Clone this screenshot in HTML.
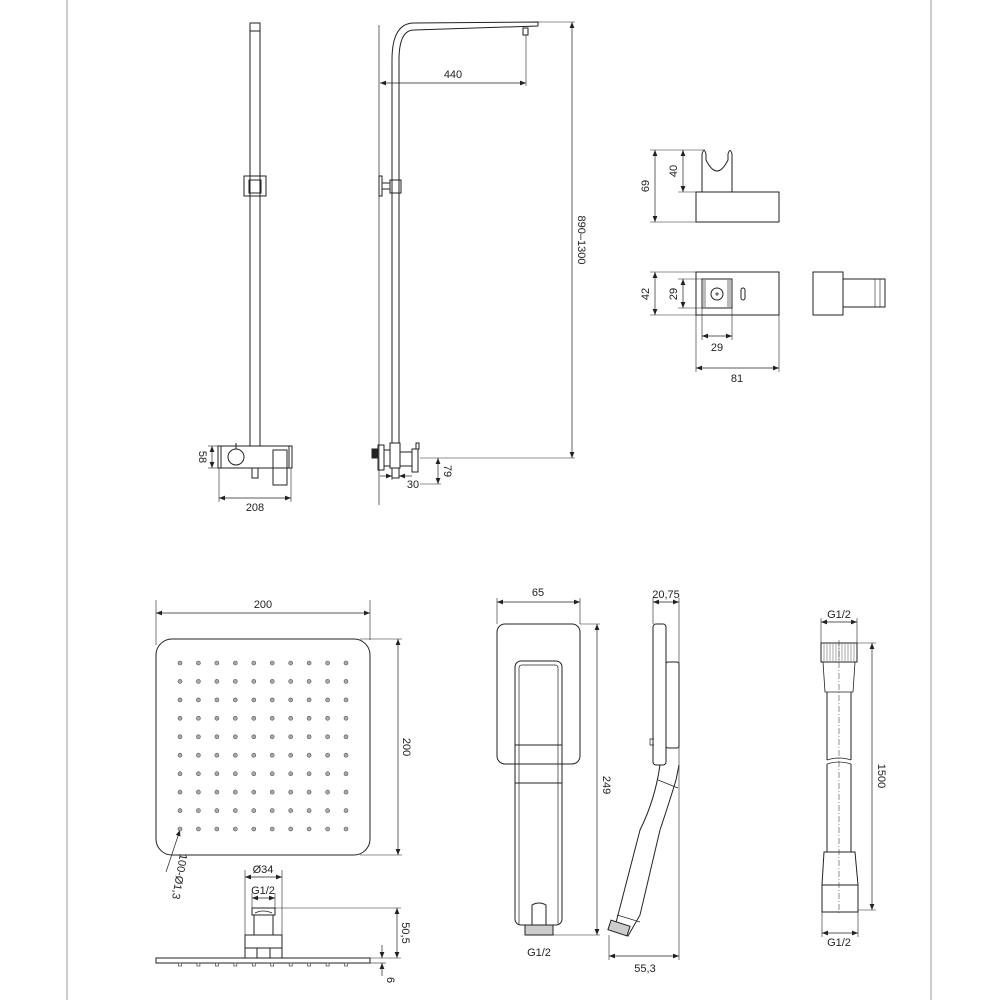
<!DOCTYPE html>
<html><head><meta charset="utf-8"><style>
html,body{margin:0;padding:0;background:#fff}
svg{display:block}
text{font-family:"Liberation Sans",sans-serif;font-size:11px;fill:#222}
</style></head><body>
<svg width="1000" height="1000" viewBox="0 0 1000 1000" xmlns="http://www.w3.org/2000/svg">
<defs>
<marker id="a" viewBox="0 0 10 10" refX="10" refY="5" markerWidth="8" markerHeight="6" orient="auto-start-reverse" markerUnits="userSpaceOnUse"><path d="M0,1 L10,5 L0,9 z" fill="#222"/></marker>
</defs>
<line x1="67" y1="0" x2="67" y2="1000" stroke="#aaa" stroke-width="1.2"/>
<line x1="931" y1="0" x2="931" y2="1000" stroke="#aaa" stroke-width="1.2"/>

<g fill="none" stroke="#222" stroke-width="1">
<!-- left front view -->
<rect x="250" y="23" width="10" height="423"/>
<rect x="250" y="23" width="10" height="8"/>
<rect x="244" y="176" width="22" height="20"/>
<rect x="249" y="180" width="12" height="13"/>
<rect x="218" y="446" width="74" height="22"/>
<line x1="221" y1="446" x2="221" y2="468"/><line x1="289" y1="446" x2="289" y2="468"/>
<circle cx="236" cy="457" r="8"/>
<line x1="236" y1="443" x2="236" y2="449"/>
<rect x="252" y="468" width="6" height="10"/>
<rect x="273" y="450" width="14" height="35"/>
<line x1="219" y1="468" x2="219" y2="502" stroke-width="0.6"/>
<line x1="291" y1="468" x2="291" y2="502" stroke-width="0.6"/>
<line x1="219" y1="498" x2="291" y2="498" stroke-width="0.7" marker-start="url(#a)" marker-end="url(#a)"/>
<line x1="212" y1="446" x2="212" y2="468" stroke-width="0.7" marker-start="url(#a)" marker-end="url(#a)"/>
<line x1="208" y1="446" x2="218" y2="446" stroke-width="0.6"/>
<line x1="208" y1="468" x2="218" y2="468" stroke-width="0.6"/>

<!-- right side view -->
<line x1="379" y1="25" x2="379" y2="505" stroke-width="0.7"/>
<path d="M392 443 L392 60 Q392 23 414 23 L538 22 L538 26 L414 30 Q399 30 399 60 L399 443"/>
<rect x="523" y="28" width="5" height="7"/>
<line x1="526" y1="35" x2="526" y2="86" stroke-width="0.6"/>
<line x1="380" y1="83" x2="526" y2="83" stroke-width="0.7" marker-start="url(#a)" marker-end="url(#a)"/>
<rect x="379" y="176" width="3" height="20"/>
<rect x="382" y="183" width="8" height="6"/>
<rect x="390" y="180" width="11" height="13"/>
<line x1="538" y1="22" x2="575" y2="22" stroke-width="0.6"/>
<line x1="572" y1="22" x2="572" y2="458" stroke-width="0.7" marker-start="url(#a)" marker-end="url(#a)"/>
<line x1="420" y1="458" x2="575" y2="458" stroke-width="0.6"/>
<rect x="372" y="449" width="6" height="9" fill="#222"/>
<rect x="378" y="445" width="6" height="25"/>
<rect x="384" y="450" width="6" height="16"/>
<rect x="390" y="443" width="10" height="25"/>
<rect x="392" y="468" width="7" height="10"/>
<rect x="400" y="452" width="12" height="14"/>
<rect x="412" y="449" width="6" height="23"/>
<rect x="416" y="443" width="3" height="6"/>
<line x1="420" y1="484" x2="441" y2="484" stroke-width="0.6"/>
<line x1="438" y1="458" x2="438" y2="484" stroke-width="0.7" marker-start="url(#a)" marker-end="url(#a)"/>
<line x1="380" y1="476" x2="392" y2="476" stroke-width="0.7" marker-end="url(#a)"/>
<line x1="412" y1="476" x2="399" y2="476" stroke-width="0.7" marker-end="url(#a)"/>
<line x1="392" y1="478" x2="392" y2="480" stroke-width="0.6"/>

<!-- holder top -->
<rect x="696" y="192" width="83" height="30"/>
<path d="M702 192 L702 154 Q704 147 706 154 L706 160 Q717 182 728 160 L728 154 Q730 147 732 154 L732 192"/>
<line x1="650" y1="150" x2="705" y2="150" stroke-width="0.6"/>
<line x1="650" y1="222" x2="696" y2="222" stroke-width="0.6"/>
<line x1="678" y1="192" x2="702" y2="192" stroke-width="0.6"/>
<line x1="655" y1="150" x2="655" y2="222" stroke-width="0.7" marker-start="url(#a)" marker-end="url(#a)"/>
<line x1="683" y1="150" x2="683" y2="192" stroke-width="0.7" marker-start="url(#a)" marker-end="url(#a)"/>
<!-- holder front -->
<rect x="696" y="272" width="83" height="43"/>
<rect x="702" y="279" width="30" height="29"/>
<rect x="703" y="280" width="3" height="27" fill="#bbb" stroke="none"/>
<rect x="727" y="280" width="4" height="27" fill="#bbb" stroke="none"/>
<circle cx="717" cy="294" r="6"/>
<path d="M715 294 h4 M717 292 v4" stroke-width="0.8"/>
<rect x="741" y="288" width="4" height="12" rx="2"/>
<line x1="650" y1="272" x2="696" y2="272" stroke-width="0.6"/>
<line x1="650" y1="315" x2="696" y2="315" stroke-width="0.6"/>
<line x1="678" y1="279" x2="702" y2="279" stroke-width="0.6"/>
<line x1="678" y1="308" x2="702" y2="308" stroke-width="0.6"/>
<line x1="655" y1="272" x2="655" y2="315" stroke-width="0.7" marker-start="url(#a)" marker-end="url(#a)"/>
<line x1="683" y1="279" x2="683" y2="308" stroke-width="0.7" marker-start="url(#a)" marker-end="url(#a)"/>
<line x1="702" y1="308" x2="702" y2="340" stroke-width="0.6"/>
<line x1="732" y1="308" x2="732" y2="340" stroke-width="0.6"/>
<line x1="702" y1="336" x2="732" y2="336" stroke-width="0.7" marker-start="url(#a)" marker-end="url(#a)"/>
<line x1="696" y1="315" x2="696" y2="372" stroke-width="0.6"/>
<line x1="779" y1="315" x2="779" y2="372" stroke-width="0.6"/>
<line x1="696" y1="368" x2="779" y2="368" stroke-width="0.7" marker-start="url(#a)" marker-end="url(#a)"/>
<rect x="813" y="272" width="30" height="43"/>
<rect x="843" y="279" width="42" height="28"/>
<line x1="875" y1="279" x2="875" y2="307" stroke-width="0.6"/>
<line x1="880" y1="279" x2="880" y2="307" stroke-width="0.6"/>

<!-- rain shower -->
<rect x="156" y="639" width="214" height="216" rx="16"/>
<line x1="156" y1="600" x2="156" y2="645" stroke-width="0.6"/>
<line x1="370" y1="600" x2="370" y2="640" stroke-width="0.6"/>
<line x1="156" y1="613" x2="370" y2="613" stroke-width="0.7" marker-start="url(#a)" marker-end="url(#a)"/>
<line x1="360" y1="639" x2="402" y2="639" stroke-width="0.6"/>
<line x1="360" y1="855" x2="402" y2="855" stroke-width="0.6"/>
<line x1="398" y1="639" x2="398" y2="855" stroke-width="0.7" marker-start="url(#a)" marker-end="url(#a)"/>
<line x1="166" y1="872" x2="180" y2="830" stroke-width="0.7" marker-end="url(#a)"/>
<!-- fitting -->
<line x1="245" y1="870" x2="245" y2="935" stroke-width="0.6"/>
<line x1="282" y1="870" x2="282" y2="935" stroke-width="0.6"/>
<line x1="245" y1="877" x2="282" y2="877" stroke-width="0.7" marker-start="url(#a)" marker-end="url(#a)"/>
<line x1="252" y1="893" x2="252" y2="908" stroke-width="0.6"/>
<line x1="275" y1="893" x2="275" y2="908" stroke-width="0.6"/>
<line x1="252" y1="898" x2="275" y2="898" stroke-width="0.7" marker-start="url(#a)" marker-end="url(#a)"/>
<rect x="252" y="908" width="23" height="7"/>
<path d="M255 913 Q263 909 272 913" stroke-width="0.7"/>
<rect x="254" y="915" width="19" height="20"/>
<rect x="245" y="935" width="37" height="13"/>
<rect x="245" y="948" width="37" height="10"/>
<rect x="257" y="948" width="13" height="10"/>
<rect x="156" y="958" width="214" height="5"/>
<line x1="275" y1="908" x2="401" y2="908" stroke-width="0.6"/>
<line x1="370" y1="958" x2="401" y2="958" stroke-width="0.6"/>
<line x1="370" y1="963" x2="386" y2="963" stroke-width="0.6"/>
<line x1="397" y1="908" x2="397" y2="958" stroke-width="0.7" marker-start="url(#a)" marker-end="url(#a)"/>
<line x1="382" y1="945" x2="382" y2="958" stroke-width="0.7" marker-end="url(#a)"/>
<line x1="382" y1="976" x2="382" y2="963" stroke-width="0.7" marker-end="url(#a)"/>

<!-- hand shower front -->
<rect x="497" y="624" width="83" height="140" rx="8"/>
<rect x="515" y="661" width="47" height="264" rx="6"/>
<path d="M519 925 L519 668 Q519 665 522 665 L555 665 Q558 665 558 668 L558 925" stroke-width="0.7"/>
<line x1="515" y1="745" x2="562" y2="745"/>
<line x1="515" y1="783" x2="562" y2="783"/>
<path d="M532 925 L532 905 Q539 901 546 905 L546 925"/>
<rect x="525" y="925" width="28" height="10" fill="#ccc"/>
<line x1="497" y1="598" x2="497" y2="624" stroke-width="0.6"/>
<line x1="580" y1="598" x2="580" y2="624" stroke-width="0.6"/>
<line x1="497" y1="602" x2="580" y2="602" stroke-width="0.7" marker-start="url(#a)" marker-end="url(#a)"/>
<line x1="580" y1="624" x2="600" y2="624" stroke-width="0.6"/>
<line x1="553" y1="935" x2="600" y2="935" stroke-width="0.6"/>
<line x1="597" y1="624" x2="597" y2="935" stroke-width="0.7" marker-start="url(#a)" marker-end="url(#a)"/>

<!-- hand shower side -->
<rect x="653" y="624" width="13" height="141" rx="3"/>
<rect x="666" y="662" width="13" height="86" rx="2"/>
<path d="M654 745 h-4 v-6 h4" stroke-width="0.7"/>
<path d="M660 765 Q655 800 640 830 L618 915 L614 930 L628 936 L640 915 L660 830 Q670 800 676 780 L679 765" />
<line x1="658" y1="780" x2="678" y2="788" stroke-width="0.7"/>
<path d="M617 915 L640 922" stroke-width="0.7"/>
<rect x="609" y="923" width="20" height="10" fill="#ccc" transform="rotate(18 619 928)"/>
<line x1="653" y1="598" x2="653" y2="624" stroke-width="0.6"/>
<line x1="679" y1="598" x2="679" y2="960" stroke-width="0.6"/>
<line x1="609" y1="935" x2="609" y2="960" stroke-width="0.6"/>
<line x1="653" y1="602" x2="679" y2="602" stroke-width="0.7" marker-start="url(#a)" marker-end="url(#a)"/>
<line x1="609" y1="956" x2="679" y2="956" stroke-width="0.7" marker-start="url(#a)" marker-end="url(#a)"/>

<!-- hose -->
<rect x="821" y="643" width="36" height="19"/>
<g stroke-width="0.5" stroke="#555">
<line x1="824" y1="644" x2="824" y2="661"/><line x1="827" y1="644" x2="827" y2="661"/><line x1="830" y1="644" x2="830" y2="661"/><line x1="833" y1="644" x2="833" y2="661"/><line x1="836" y1="644" x2="836" y2="661"/><line x1="839" y1="644" x2="839" y2="661"/><line x1="842" y1="644" x2="842" y2="661"/><line x1="845" y1="644" x2="845" y2="661"/><line x1="848" y1="644" x2="848" y2="661"/><line x1="851" y1="644" x2="851" y2="661"/><line x1="854" y1="644" x2="854" y2="661"/>
</g>
<path d="M823 662 L825 692 L853 692 L855 662" stroke-width="0.8"/>
<line x1="827" y1="692" x2="827" y2="760"/><line x1="851" y1="692" x2="851" y2="760"/>
<path d="M827 760 Q839 756 851 760 M827 764 Q839 760 851 764" stroke-width="0.7"/>
<line x1="827" y1="764" x2="827" y2="852"/><line x1="851" y1="852" x2="851" y2="764"/>
<path d="M824 852 L855 852 L858 885 L822 885 Z"/>
<rect x="822" y="885" width="36" height="27"/>
<line x1="839" y1="640" x2="839" y2="915" stroke-width="0.5" stroke-dasharray="6,2,1,2"/>
<line x1="821" y1="618" x2="821" y2="643" stroke-width="0.6"/>
<line x1="857" y1="618" x2="857" y2="643" stroke-width="0.6"/>
<line x1="821" y1="622" x2="857" y2="622" stroke-width="0.7" marker-start="url(#a)" marker-end="url(#a)"/>
<line x1="822" y1="912" x2="822" y2="937" stroke-width="0.6"/>
<line x1="858" y1="912" x2="858" y2="937" stroke-width="0.6"/>
<line x1="822" y1="933" x2="858" y2="933" stroke-width="0.7" marker-start="url(#a)" marker-end="url(#a)"/>
<line x1="857" y1="643" x2="876" y2="643" stroke-width="0.6"/>
<line x1="858" y1="910" x2="876" y2="910" stroke-width="0.6"/>
<line x1="872" y1="643" x2="872" y2="910" stroke-width="0.7" marker-start="url(#a)" marker-end="url(#a)"/>
</g>

<!-- dots -->
<g fill="#aaa" stroke="#666" stroke-width="0.6" id="dots"></g>
<g fill="none" stroke="#222" stroke-width="0.7" id="noz"></g>

<!-- texts -->
<text x="255" y="511" text-anchor="middle">208</text>
<text transform="translate(199,457) rotate(90)" text-anchor="middle">58</text>
<text x="453" y="78" text-anchor="middle">440</text>
<text transform="translate(578,240) rotate(90)" text-anchor="middle">890–1300</text>
<text transform="translate(444,471) rotate(90)" text-anchor="middle">79</text>
<text x="413" y="488" text-anchor="middle">30</text>
<text transform="translate(649,186) rotate(-90)" text-anchor="middle">69</text>
<text transform="translate(677,171) rotate(-90)" text-anchor="middle">40</text>
<text transform="translate(649,294) rotate(-90)" text-anchor="middle">42</text>
<text transform="translate(677,294) rotate(-90)" text-anchor="middle">29</text>
<text x="717" y="351" text-anchor="middle">29</text>
<text x="737" y="382" text-anchor="middle">81</text>
<text x="263" y="608" text-anchor="middle">200</text>
<text transform="translate(403,747) rotate(90)" text-anchor="middle">200</text>
<text transform="translate(176,876) rotate(100)" text-anchor="middle">100-Ø1,3</text>
<text x="263" y="873" text-anchor="middle">Ø34</text>
<text x="263" y="894" text-anchor="middle">G1/2</text>
<text transform="translate(402,933) rotate(90)" text-anchor="middle">50,5</text>
<text transform="translate(387,980) rotate(90)" text-anchor="middle">6</text>
<text x="538" y="596" text-anchor="middle">65</text>
<text transform="translate(603,785) rotate(90)" text-anchor="middle">249</text>
<text x="539" y="956" text-anchor="middle">G1/2</text>
<text x="666" y="598" text-anchor="middle">20,75</text>
<text x="645" y="972" text-anchor="middle">55,3</text>
<text x="839" y="618" text-anchor="middle">G1/2</text>
<text x="839" y="946" text-anchor="middle">G1/2</text>
<text transform="translate(878,776) rotate(90)" text-anchor="middle">1500</text>

<g fill="#aaa" stroke="#555" stroke-width="0.6">
<circle cx="180" cy="663" r="2"/><circle cx="198.4" cy="663" r="2"/><circle cx="216.9" cy="663" r="2"/><circle cx="235.3" cy="663" r="2"/><circle cx="253.8" cy="663" r="2"/><circle cx="272.2" cy="663" r="2"/><circle cx="290.7" cy="663" r="2"/><circle cx="309.1" cy="663" r="2"/><circle cx="327.6" cy="663" r="2"/><circle cx="346" cy="663" r="2"/>
<circle cx="180" cy="681.4" r="2"/><circle cx="198.4" cy="681.4" r="2"/><circle cx="216.9" cy="681.4" r="2"/><circle cx="235.3" cy="681.4" r="2"/><circle cx="253.8" cy="681.4" r="2"/><circle cx="272.2" cy="681.4" r="2"/><circle cx="290.7" cy="681.4" r="2"/><circle cx="309.1" cy="681.4" r="2"/><circle cx="327.6" cy="681.4" r="2"/><circle cx="346" cy="681.4" r="2"/>
<circle cx="180" cy="699.9" r="2"/><circle cx="198.4" cy="699.9" r="2"/><circle cx="216.9" cy="699.9" r="2"/><circle cx="235.3" cy="699.9" r="2"/><circle cx="253.8" cy="699.9" r="2"/><circle cx="272.2" cy="699.9" r="2"/><circle cx="290.7" cy="699.9" r="2"/><circle cx="309.1" cy="699.9" r="2"/><circle cx="327.6" cy="699.9" r="2"/><circle cx="346" cy="699.9" r="2"/>
<circle cx="180" cy="718.3" r="2"/><circle cx="198.4" cy="718.3" r="2"/><circle cx="216.9" cy="718.3" r="2"/><circle cx="235.3" cy="718.3" r="2"/><circle cx="253.8" cy="718.3" r="2"/><circle cx="272.2" cy="718.3" r="2"/><circle cx="290.7" cy="718.3" r="2"/><circle cx="309.1" cy="718.3" r="2"/><circle cx="327.6" cy="718.3" r="2"/><circle cx="346" cy="718.3" r="2"/>
<circle cx="180" cy="736.8" r="2"/><circle cx="198.4" cy="736.8" r="2"/><circle cx="216.9" cy="736.8" r="2"/><circle cx="235.3" cy="736.8" r="2"/><circle cx="253.8" cy="736.8" r="2"/><circle cx="272.2" cy="736.8" r="2"/><circle cx="290.7" cy="736.8" r="2"/><circle cx="309.1" cy="736.8" r="2"/><circle cx="327.6" cy="736.8" r="2"/><circle cx="346" cy="736.8" r="2"/>
<circle cx="180" cy="755.2" r="2"/><circle cx="198.4" cy="755.2" r="2"/><circle cx="216.9" cy="755.2" r="2"/><circle cx="235.3" cy="755.2" r="2"/><circle cx="253.8" cy="755.2" r="2"/><circle cx="272.2" cy="755.2" r="2"/><circle cx="290.7" cy="755.2" r="2"/><circle cx="309.1" cy="755.2" r="2"/><circle cx="327.6" cy="755.2" r="2"/><circle cx="346" cy="755.2" r="2"/>
<circle cx="180" cy="773.7" r="2"/><circle cx="198.4" cy="773.7" r="2"/><circle cx="216.9" cy="773.7" r="2"/><circle cx="235.3" cy="773.7" r="2"/><circle cx="253.8" cy="773.7" r="2"/><circle cx="272.2" cy="773.7" r="2"/><circle cx="290.7" cy="773.7" r="2"/><circle cx="309.1" cy="773.7" r="2"/><circle cx="327.6" cy="773.7" r="2"/><circle cx="346" cy="773.7" r="2"/>
<circle cx="180" cy="792.1" r="2"/><circle cx="198.4" cy="792.1" r="2"/><circle cx="216.9" cy="792.1" r="2"/><circle cx="235.3" cy="792.1" r="2"/><circle cx="253.8" cy="792.1" r="2"/><circle cx="272.2" cy="792.1" r="2"/><circle cx="290.7" cy="792.1" r="2"/><circle cx="309.1" cy="792.1" r="2"/><circle cx="327.6" cy="792.1" r="2"/><circle cx="346" cy="792.1" r="2"/>
<circle cx="180" cy="810.6" r="2"/><circle cx="198.4" cy="810.6" r="2"/><circle cx="216.9" cy="810.6" r="2"/><circle cx="235.3" cy="810.6" r="2"/><circle cx="253.8" cy="810.6" r="2"/><circle cx="272.2" cy="810.6" r="2"/><circle cx="290.7" cy="810.6" r="2"/><circle cx="309.1" cy="810.6" r="2"/><circle cx="327.6" cy="810.6" r="2"/><circle cx="346" cy="810.6" r="2"/>
<circle cx="180" cy="829" r="2"/><circle cx="198.4" cy="829" r="2"/><circle cx="216.9" cy="829" r="2"/><circle cx="235.3" cy="829" r="2"/><circle cx="253.8" cy="829" r="2"/><circle cx="272.2" cy="829" r="2"/><circle cx="290.7" cy="829" r="2"/><circle cx="309.1" cy="829" r="2"/><circle cx="327.6" cy="829" r="2"/><circle cx="346" cy="829" r="2"/>
</g>
<g fill="none" stroke="#444" stroke-width="0.7">
<rect x="178.5" y="963" width="3" height="3"/><rect x="196.9" y="963" width="3" height="3"/><rect x="215.4" y="963" width="3" height="3"/><rect x="233.8" y="963" width="3" height="3"/><rect x="252.3" y="963" width="3" height="3"/><rect x="270.7" y="963" width="3" height="3"/><rect x="289.2" y="963" width="3" height="3"/><rect x="307.6" y="963" width="3" height="3"/><rect x="326.1" y="963" width="3" height="3"/><rect x="344.5" y="963" width="3" height="3"/>
</g>
</svg>
</body></html>
